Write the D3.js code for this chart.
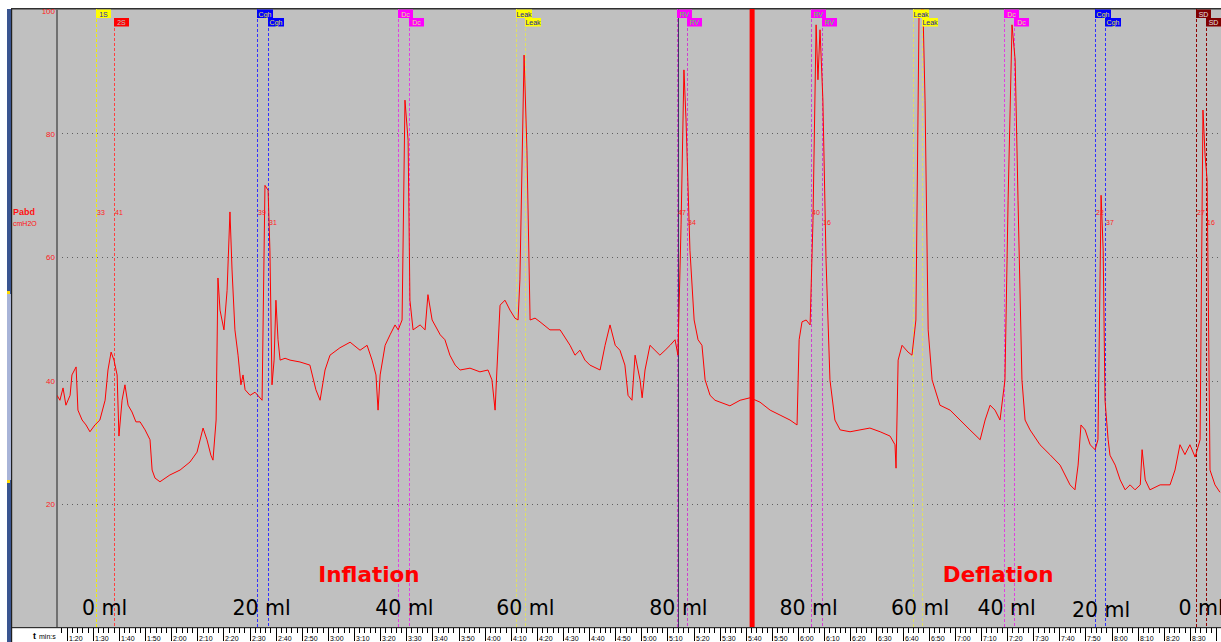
<!DOCTYPE html>
<html><head><meta charset="utf-8">
<script src="https://cdn.jsdelivr.net/npm/d3@7"></script>
<style>body{margin:0;background:#fff;overflow:hidden}svg{display:block}</style>
</head><body>
<script>
// ---- DATA ----
const times = [76.3,77.4,78.6,79.7,81.3,82.0,83.6,84.3,85.9,87.4,88.9,90.8,92.7,94.7,95.8,97.0,98.1,99.3,100.0,101.2,102.3,103.5,105.0,106.5,108.1,110.0,111.9,112.7,113.8,115.7,119.5,123.4,127.2,129.9,132.2,133.7,135.2,136.0,137.2,137.9,138.7,140.2,141.4,142.5,143.3,144.4,145.6,146.7,147.5,148.3,150.2,152.1,154.8,155.9,157.1,157.8,158.6,159.4,160.1,160.9,161.7,163.6,165.5,169.3,173.1,175.4,177.0,178.9,180.8,184.6,188.5,192.3,195.0,196.9,198.4,199.2,200.0,201.9,203.8,205.7,206.9,208.4,209.5,210.7,211.4,212.6,215.3,217.2,218.3,219.9,223.0,224.8,226.7,228.7,230.6,234.4,238.2,241.3,242.8,244.0,244.7,245.9,247.8,249.7,251.6,252.8,253.5,255.1,256.2,257.4,259.3,261.2,265.0,268.9,272.7,274.6,276.5,278.4,280.3,284.2,286.1,288.0,290.0,291.8,293.7,294.9,296.4,297.6,299.5,300.3,301.4,303.3,305.2,307.1,309.1,311.0,312.9,314.0,315.2,316.3,317.1,318.6,320.2,321.7,323.2,324.4,326.3,328.2,330.1,333.9,337.8,341.6,345.4,349.3,353.1,356.9,359.6,360.4,361.5,363.1,364.6,365.7,366.9,367.6,368.4,369.5,370.7,372.2,374.1,376.1,379.9,383.7,387.5,391.4,395.2,397.1,397.5,398.3,399.8,402.1,403.6,405.1,406.3,407.8,408.6,409.8,411.3,414.3,418.2,422.0,425.8,429.7,431.6,433.5,435.4,437.3,439.2,440.4,441.9,443.1,444.2,445.7,446.9,448.8,452.6,456.4,460.3,464.1,466.0,467.2,468.3,469.9,471.8,473.7,474.8,476.0,476.8,477.5,478.7,479.4,481.4,483.3,485.2,487.1,489.0,491.0,491.7,492.9,494.7,498.6,502.4,504.3,506.2,508.1,510.0,512.0,513.9,515.0,515.8,516.6,517.7,519.6,521.5];
const pabd = [37.6,36.8,38.8,36.0,37.6,40.9,42.2,35.2,33.6,32.8,31.7,32.8,33.6,36.8,41.7,44.6,43.3,40.9,31.0,36.8,39.3,36.0,34.9,33.3,33.3,32.0,30.4,25.5,24.2,23.6,24.7,25.5,26.8,28.4,32.3,30.4,27.9,27.1,33.6,56.6,51.4,48.2,54.6,67.3,57.9,48.2,44.1,39.3,40.9,38.5,37.6,38.1,36.8,71.6,70.8,61.1,39.3,43.3,53.0,46.6,43.3,43.6,43.3,43.0,42.5,38.5,36.8,41.7,44.1,45.3,46.2,44.9,45.7,43.3,40.9,35.2,40.9,45.7,47.4,49.0,48.2,49.8,85.4,78.9,53.0,48.2,49.0,48.2,53.9,49.8,47.4,46.6,44.1,42.5,41.7,42.0,41.4,41.7,40.1,35.2,41.7,52.2,53.0,51.4,50.1,49.8,56.3,92.7,77.3,49.8,50.1,49.5,48.2,48.2,45.7,44.1,44.9,43.3,42.5,41.7,45.7,49.0,45.7,44.9,42.5,37.6,36.8,44.1,40.1,37.2,41.7,45.7,44.9,44.1,44.9,45.7,46.6,44.1,65.2,90.3,82.2,61.1,49.8,46.6,45.7,40.1,37.6,36.8,36.5,35.9,36.8,37.2,36.5,35.2,34.4,33.6,32.8,46.6,49.5,49.8,49.0,65.9,97.6,88.7,96.8,85.4,59.5,40.1,33.6,32.0,31.7,32.0,32.3,31.7,31.0,29.6,25.8,43.3,45.7,44.6,44.1,49.8,99.2,100.5,85.4,48.2,40.1,36.0,35.2,33.6,32.0,30.4,33.6,36.0,35.2,33.6,40.1,69.2,97.6,91.9,69.2,40.1,33.6,32.0,29.6,28.0,26.3,23.1,22.3,26.3,32.8,32.0,29.6,28.8,30.4,70.0,61.1,36.8,30.4,27.9,26.3,23.9,22.3,23.1,22.3,23.1,28.8,23.9,22.3,23.1,23.1,25.5,29.6,28.0,29.6,27.6,30.4,83.8,76.5,72.5,25.5,23.1,21.9];
const yTicks = [20, 40, 60, 80, 100];
const markerNames  = ["1S","2S","Cgh","Cgh","Dc","Dc","Leak","Leak","RV","RV","RV","RV","Leak","Leak","Dc","Dc","Cgh","Cgh","SD","SD"];
const markerTimes  = [91.2,98.1,152.8,157.1,206.9,211.0,252.0,255.5,313.6,317.5,364.9,369.1,404.0,407.4,438.8,442.7,473.7,477.5,512.3,516.2];
const markerValues = ["33","41","39","31","","","","","47","34","40","16","","","","","22","37","27","16"];
const volumeLabels = ["0 ml","20 ml","40 ml","60 ml","80 ml","80 ml","60 ml","40 ml","20 ml","0 ml"];
const volumeTimes  = [94.5,154.6,209.3,255.6,314.2,364.0,406.7,439.8,476.0,514.3];
const phaseLabels = ["Inflation","Deflation"];
const phaseTimes  = [195.7,436.6];
const switchTime = 342.4;
const cursorTime = 314.0;

// ---- STYLE MAPS ----
const mStyle = {
  "1S":  {bg:"#ffff00", fg:"#2020c0", line:"#f0f000"},
  "2S":  {bg:"#ff0000", fg:"#c0c0c0", line:"#ff4040"},
  "Cgh": {bg:"#0000ff", fg:"#e0e040", line:"#3030ff"},
  "Dc":  {bg:"#ff00ff", fg:"#e0e080", line:"#e040e0"},
  "Leak":{bg:"#ffff00", fg:"#2020a0", line:"#e0e060"},
  "RV":  {bg:"#ff00ff", fg:"#40e040", line:"#d040d0"},
  "SD":  {bg:"#800000", fg:"#e0e0e0", line:"#900000"}
};

const W = 1221, H = 642;
const plotL = 12, plotT = 9, plotB = 627, axisX = 57;
const svg = d3.select("body").append("svg").attr("width", W).attr("height", H);

const x = d3.scaleLinear().domain([80, 510]).range([66.7, 1189.9]);
const y = d3.scaleLinear().domain([0, 100]).range([627.5, 10]);

// background
svg.append("rect").attr("x",0).attr("y",0).attr("width",W).attr("height",H).attr("fill","#fff");
svg.append("rect").attr("x",plotL).attr("y",plotT).attr("width",W-plotL).attr("height",plotB-plotT).attr("fill","#c0c0c0");
svg.append("rect").attr("x",plotL-1).attr("y",plotT-1).attr("width",W).attr("height",1.5).attr("fill","#303030");
svg.append("rect").attr("x",7).attr("y",9).attr("width",4).attr("height",H-9).attr("fill","#3a5590");
svg.append("rect").attr("x",7).attr("y",294).attr("width",4).attr("height",186).attr("fill","#a8b4d8");
svg.append("rect").attr("x",7).attr("y",291).attr("width",3).attr("height",3).attr("fill","#ffd800");
svg.append("rect").attr("x",7).attr("y",480).attr("width",3).attr("height",3).attr("fill","#ffd800");
svg.append("rect").attr("x",11).attr("y",9).attr("width",1.2).attr("height",H-9).attr("fill","#202020");

// gridlines
const g = svg.append("g");
yTicks.filter(v=>v<100).forEach(v=>{
  g.append("line").attr("x1",axisX).attr("x2",W).attr("y1",Math.round(y(v))+0.5).attr("y2",Math.round(y(v))+0.5)
   .attr("stroke","#606060").attr("stroke-width",1).attr("stroke-dasharray","1,4");
});
svg.append("rect").attr("x",axisX-1).attr("y",plotT).attr("width",2).attr("height",plotB-plotT).attr("fill","#707070");
yTicks.forEach(v=>{
  svg.append("text").attr("x",axisX-2).attr("y",v===100?y(v)+4:y(v)+3).attr("text-anchor","end")
   .attr("font-family","Liberation Sans, Arial, sans-serif").attr("font-size",8).attr("fill","#ff2020").text(v);
});
svg.append("text").attr("x",13).attr("y",215).attr("font-family","Liberation Sans, Arial, sans-serif").attr("font-weight","bold").attr("font-size",9).attr("fill","#ff1010").text("Pabd");
svg.append("text").attr("x",13).attr("y",226).attr("font-family","Liberation Sans, Arial, sans-serif").attr("font-size",7).attr("fill","#ff1010").text("cmH2O");

svg.append("clipPath").attr("id","clip").append("rect").attr("x",axisX).attr("y",plotT).attr("width",W-axisX).attr("height",plotB-plotT);

const mg = svg.append("g").attr("clip-path","url(#clip)");
markerTimes.forEach((t,i)=>{
  const name = markerNames[i], st = mStyle[name];
  const xi = Math.round(x(t))+0.5;
  const top = i%2===1 ? 18 : 9;
  mg.append("line").attr("x1",xi).attr("x2",xi).attr("y1",top).attr("y2",plotB)
    .attr("stroke",st.line).attr("stroke-width",1).attr("stroke-dasharray","3,2");
});
svg.append("line").attr("x1",Math.round(x(cursorTime))+0.5).attr("x2",Math.round(x(cursorTime))+0.5).attr("y1",plotT).attr("y2",plotB).attr("stroke","#403860").attr("stroke-width",1);

const line = d3.line().x((d,i)=>x(times[i])).y(d=>y(d));
svg.append("path").attr("clip-path","url(#clip)").datum(pabd).attr("d",line).attr("fill","none").attr("stroke","#ff0000").attr("stroke-width",1);

markerTimes.forEach((t,i)=>{
  const name = markerNames[i], st = mStyle[name];
  const xi = Math.round(x(t));
  const second = i%2===1;
  const top = second ? 18 : 9.5;
  const w = name.length>2 ? 16 : 15;
  svg.append("rect").attr("x",xi).attr("y",top).attr("width",w).attr("height",8.5).attr("fill",st.bg);
  svg.append("text").attr("x",xi+w/2).attr("y",top+7).attr("text-anchor","middle")
    .attr("font-family","Liberation Sans, Arial, sans-serif").attr("font-size",7).attr("fill",st.fg).text(name);
  if (markerValues[i]) {
    const sameRow = (name==="1S"||name==="2S");
    svg.append("text").attr("x",xi+1).attr("y",(second && !sameRow)?225:215)
      .attr("font-family","Liberation Sans, Arial, sans-serif").attr("font-size",7).attr("fill","#ff2020").text(markerValues[i]);
  }
});

svg.append("rect").attr("x",x(switchTime)-2.5).attr("y",plotT).attr("width",5).attr("height",plotB-plotT).attr("fill","#ff0000");

phaseLabels.forEach((s,i)=>{
  svg.append("text").attr("x",x(phaseTimes[i])).attr("y",582).attr("text-anchor","middle")
    .attr("font-family","DejaVu Sans, Verdana, sans-serif").attr("font-weight","bold").attr("font-size",21.5).attr("fill","#ff0000").text(s);
});
volumeLabels.forEach((s,i)=>{
  svg.append("text").attr("x",x(volumeTimes[i])).attr("y",i===8?617:615).attr("text-anchor","middle")
    .attr("font-family","DejaVu Sans, Verdana, sans-serif").attr("font-size",20.5).attr("fill","#000").text(s);
});

svg.append("rect").attr("x",plotL).attr("y",plotB).attr("width",W-plotL).attr("height",1.2).attr("fill","#303030");
const ta = svg.append("g");
for (let t = 62; t <= 522; t += 2) {
  const xi = Math.round(x(t))+0.5;
  if (xi < axisX || xi > W) continue;
  const major = t % 10 === 0;
  ta.append("line").attr("x1",xi).attr("x2",xi).attr("y1",628).attr("y2",major?641:633).attr("stroke","#000").attr("stroke-width",1);
  if (major && xi < W - 16) {
    const m = Math.floor(t/60), s = t%60;
    ta.append("text").attr("x",xi+1.5).attr("y",641).attr("font-family","Liberation Sans, Arial, sans-serif").attr("font-size",7).attr("fill","#000")
      .text(m+":"+String(s).padStart(2,"0"));
  }
}
svg.append("text").attr("x",33).attr("y",639).attr("font-family","Liberation Sans, Arial, sans-serif").attr("font-weight","bold").attr("font-size",9).attr("fill","#000").text("t");
svg.append("text").attr("x",39).attr("y",639).attr("font-family","Liberation Sans, Arial, sans-serif").attr("font-size",7).attr("fill","#000").text("min:s");
</script>
</body></html>
